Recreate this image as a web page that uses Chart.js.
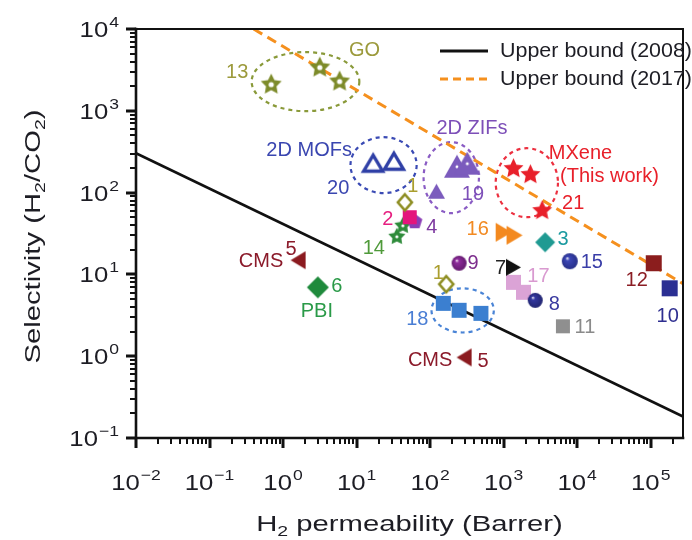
<!DOCTYPE html>
<html>
<head>
<meta charset="utf-8">
<script src="https://cdn.jsdelivr.net/npm/chart.js@4.4.1/dist/chart.umd.min.js"></script>
<style>
  html, body { margin: 0; padding: 0; background: #fff; }
  #wrap { width: 692px; height: 540px; }
</style>
</head>
<body>
<div id="wrap"><canvas id="c" width="692" height="540"></canvas></div>
<script>
// ---- Axis ranges and decade tick labels ----
const xRange = [0.01, 275000];
const yRange = [0.1, 10000];
const xTicks = [0.01, 0.1, 1, 10, 100, 1000, 10000, 100000];
const xTickExp = ['\u22122', '\u22121', '0', '1', '2', '3', '4', '5'];
const yTicks = [0.1, 1, 10, 100, 1000, 10000];
const yTickExp = ['\u22121', '0', '1', '2', '3', '4'];

// ---- Robeson upper bounds (end points) ----
const bound2008X = [0.01, 275000];
const bound2008Y = [303, 0.183];
const bound2017X = [0.398, 275000];
const bound2017Y = [10000, 7.71];

// ---- Membranes: H2 permeability (Barrer) / H2/CO2 selectivity ----
const s13X = [0.69, 3.16, 5.87],   s13Y = [2120, 3430, 2310];   // GO
const s20X = [16.8, 32.2],         s20Y = [229, 242];           // 2D MOFs
const s19X = [232, 320, 122],      s19Y = [210, 229, 104];      // 2D ZIFs
const s21X = [1360, 2310, 3340],   s21Y = [199, 168, 61];       // MXene
const s1X  = [45.3, 166],          s1Y  = [76, 7.6];
const s2X  = [52.8],               s2Y  = [50];
const s4X  = [61.7],               s4Y  = [44.7];
const s14X = [35.3, 42.6],         s14Y = [29.3, 39.9];
const s16X = [1000, 1406],         s16Y = [32.7, 30.1];
const s3X  = [3670],               s3Y  = [24.7];
const s15X = [7940],               s15Y = [14.5];
const s9X  = [248],                s9Y  = [13.7];
const s7X  = [1360],               s7Y  = [12.2];
const s17X = [1360, 1860],         s17Y = [8.0, 6.04];
const s8X  = [2690],               s8Y  = [4.82];
const s11X = [6400],               s11Y = [2.32];
const s12X = [110000],             s12Y = [13.7];
const s10X = [181000],             s10Y = [6.76];
const s18X = [151, 248, 491],      s18Y = [4.43, 3.64, 3.34];
const s5X  = [1.6, 290],           s5Y  = [14.9, 0.966];        // CMS
const s6X  = [2.97],               s6Y  = [6.95];               // PBI

const zip = (xs, ys) => xs.map((x, i) => ({ x, y: ys[i] }));

// ---- Marker images ----
function marker(shape, w, h, fill, opt = {}) {
  const lw = opt.hollow ? (opt.lw || 2.5) : 0;
  const pad = 2 + lw;
  const c = document.createElement('canvas');
  c.width = Math.ceil(w + pad * 2);
  c.height = Math.ceil(h + pad * 2);
  const g = c.getContext('2d');
  const cx = c.width / 2, cy = c.height / 2;
  g.beginPath();
  if (shape === 'square') {
    g.rect(cx - w / 2, cy - h / 2, w, h);
  } else if (shape === 'diamond') {
    g.moveTo(cx, cy - h / 2); g.lineTo(cx + w / 2, cy);
    g.lineTo(cx, cy + h / 2); g.lineTo(cx - w / 2, cy); g.closePath();
  } else if (shape === 'triUp') {
    g.moveTo(cx, cy - h / 2); g.lineTo(cx + w / 2, cy + h / 2);
    g.lineTo(cx - w / 2, cy + h / 2); g.closePath();
  } else if (shape === 'triRight') {
    g.moveTo(cx + w / 2, cy); g.lineTo(cx - w / 2, cy + h / 2);
    g.lineTo(cx - w / 2, cy - h / 2); g.closePath();
  } else if (shape === 'triLeft') {
    g.moveTo(cx - w / 2, cy); g.lineTo(cx + w / 2, cy - h / 2);
    g.lineTo(cx + w / 2, cy + h / 2); g.closePath();
  } else if (shape === 'star' || shape === 'pentagon') {
    const R = w / 2, r = shape === 'star' ? R * (opt.inner || 0.45) : R;
    const n = shape === 'star' ? 10 : 5;
    for (let k = 0; k < n; k++) {
      const rad = (shape === 'star' && k % 2) ? r : R;
      const a = -Math.PI / 2 + k * 2 * Math.PI / n;
      const px = cx + rad * Math.cos(a), py = cy + 0.5 + rad * Math.sin(a);
      k ? g.lineTo(px, py) : g.moveTo(px, py);
    }
    g.closePath();
  } else if (shape === 'circle') {
    g.arc(cx, cy, w / 2, 0, Math.PI * 2);
  }
  if (opt.hollow) {
    g.lineWidth = lw; g.strokeStyle = fill; g.lineJoin = 'miter'; g.stroke();
  } else {
    if (opt.sphere) {
      const r = w / 2;
      const gr = g.createRadialGradient(cx - r * 0.35, cy - r * 0.4, 0, cx, cy, r * 1.05);
      gr.addColorStop(0, '#ffffff');
      gr.addColorStop(0.25, fill);
      gr.addColorStop(1, opt.dark || fill);
      g.fillStyle = gr;
    } else {
      g.fillStyle = fill;
    }
    g.fill();
  }
  if (opt.dot) {
    g.beginPath(); g.arc(cx, cy + 0.5, opt.dot, 0, Math.PI * 2);
    g.fillStyle = '#fff'; g.fill();
  }
  return c;
}

const mk = {
  goStar:   marker('star', 22, 21, '#7d8b2a', { dot: 2.6, inner: 0.5 }),
  mofTri:   marker('triUp', 19, 16, '#2f3fa6', { hollow: true, lw: 3.4 }),
  zifBig:   marker('triUp', 26, 23, '#7b5bbd', { dot: 1.5 }),
  zifSmall: marker('triUp', 17, 15, '#7b5bbd'),
  mxStar:   marker('star', 21, 20, '#e8202a', { inner: 0.48 }),
  dia1:     marker('diamond', 14, 16, '#8d8d22', { hollow: true, lw: 2.6 }),
  sq2:      marker('square', 14, 14, '#e4157c'),
  pent4:    marker('pentagon', 16, 16, '#8a3db5'),
  star14:   marker('star', 18, 17, '#2e8b3a', { dot: 1.6, inner: 0.52 }),
  tri16:    marker('triRight', 16, 19, '#f3891f'),
  dia3:     marker('diamond', 20, 20, '#1f9a92'),
  sph15:    marker('circle', 16, 16, '#3b46b5', { sphere: true, dark: '#262e86' }),
  sph9:     marker('circle', 15, 15, '#8e2c9c', { sphere: true, dark: '#611a6c' }),
  tri7:     marker('triRight', 15, 17, '#111111'),
  sq17:     marker('square', 15, 15, '#dba3d6'),
  sph8:     marker('circle', 15, 15, '#33389f', { sphere: true, dark: '#20246e' }),
  sq11:     marker('square', 14, 14, '#8f8f8f'),
  sq12:     marker('square', 16, 16, '#8b1d1d'),
  sq10:     marker('square', 16, 16, '#2b2f93'),
  sq18:     marker('square', 15, 15, '#3b7fd0'),
  tri5:     marker('triLeft', 15, 18, '#8b1a1f'),
  dia6:     marker('diamond', 22, 22, '#1f8a3c')
};

// Point series: marker, plus annotation texts [point index, text, dx, dy, colour]
function series(xs, ys, style, tags, order = 1) {
  return {
    data: zip(xs, ys),
    showLine: false,
    pointStyle: style,
    pointRadius: 8,
    order,
    tags
  };
}

const C = {
  go: '#9c9a3c', mof: '#3a46b0', zif: '#7d4fb8', mx: '#e8202a', one: '#aa9e2e',
  two: '#e62080', four: '#7e3aa0', fourteen: '#4f9a3a', sixteen: '#f28a22',
  three: '#1a9aa0', fifteen: '#3a3ea8', nine: '#7c2c8c', seven: '#222222',
  seventeen: '#d99ad0', eight: '#3a3aa0', eleven: '#8a8a8a', twelve: '#8b1d24',
  ten: '#2e2e90', eighteen: '#4a7ed4', cms: '#8b1a2a', pbi: '#2a9a48'
};

const datasets = [
  series(s13X, s13Y, mk.goStar, [[0, '13', -34, -12, C.go], [2, 'GO', 25, -31, C.go]]),
  series(s20X, s20Y, mk.mofTri, [[0, '2D MOFs', -64, -13, C.mof], [0, '20', -35, 25, C.mof]]),
  series(s19X, s19Y, [mk.zifBig, mk.zifBig, mk.zifSmall], [[0, '2D ZIFs', 15, -38, C.zif], [0, '19', 16, 28, C.zif]]),
  series(s21X, s21Y, mk.mxStar, [[0, 'MXene', 67, -15, C.mx], [0, '(This work)', 96, 8, C.mx], [2, '21', 31, -7, C.mx]]),
  series(s1X, s1Y, mk.dia1, [[0, '1', 8, -16, C.one], [1, '1', -8, -11, C.one]]),
  series(s2X, s2Y, mk.sq2, [[0, '2', -22, 2, C.two]]),
  series(s4X, s4Y, mk.pent4, [[0, '4', 17, 6, C.four]], 2),
  series(s14X, s14Y, mk.star14, [[0, '14', -23, 12, C.fourteen]], 2),
  series(s16X, s16Y, mk.tri16, [[0, '16', -26, -3, C.sixteen]]),
  series(s3X, s3Y, mk.dia3, [[0, '3', 18, -3, C.three]]),
  series(s15X, s15Y, mk.sph15, [[0, '15', 22, 1, C.fifteen]]),
  series(s9X, s9Y, mk.sph9, [[0, '9', 14, 0, C.nine]]),
  series(s7X, s7Y, mk.tri7, [[0, '7', -13, 1, C.seven]]),
  series(s17X, s17Y, mk.sq17, [[0, '17', 25, -6, C.seventeen]], 2),
  series(s8X, s8Y, mk.sph8, [[0, '8', 19, 4, C.eight]]),
  series(s11X, s11Y, mk.sq11, [[0, '11', 22, 1, C.eleven]]),
  series(s12X, s12Y, mk.sq12, [[0, '12', -17, 17, C.twelve]]),
  series(s10X, s10Y, mk.sq10, [[0, '10', -2, 28, C.ten]]),
  series(s18X, s18Y, mk.sq18, [[0, '18', -26, 16, C.eighteen]]),
  series(s5X, s5Y, mk.tri5, [[0, 'CMS', -37, 1, C.cms], [0, '5', -7, -11, C.cms],
                             [1, 'CMS', -34, 3, C.cms], [1, '5', 19, 4, C.cms]]),
  series(s6X, s6Y, mk.dia6, [[0, '6', 19, -1, C.pbi], [0, 'PBI', -1, 24, C.pbi]]),
  {
    label: 'Upper bound (2008)',
    data: zip(bound2008X, bound2008Y),
    showLine: true, pointRadius: 0,
    borderColor: '#111111', borderWidth: 2.6, order: 10
  },
  {
    label: 'Upper bound (2017)',
    data: zip(bound2017X, bound2017Y),
    showLine: true, pointRadius: 0,
    borderColor: '#f5901e', borderWidth: 3, borderDash: [10, 6], order: 10
  }
];

// Dashed groupings, given in data units (x range, y range)
const groups = [
  { x: [0.374, 10.9], y: [990, 5220], color: '#8a9a3a' },
  { x: [8.26, 65.6],  y: [98.5, 477], color: '#3a4ab4' },
  { x: [81.5, 461],   y: [56, 414],   color: '#8a5cc4' },
  { x: [780, 5480],   y: [50, 349],   color: '#ec3040' },
  { x: [104.5, 735],  y: [1.95, 6.76], color: '#4a84d6' }
];

const FONT = '"Liberation Sans", Arial, Helvetica, sans-serif';

function text(ctx, s, x, y, size, color, align = 'center', sx = 1, base = 'middle') {
  ctx.save();
  ctx.font = `${size}px ${FONT}`;
  ctx.fillStyle = color;
  ctx.textBaseline = base;
  ctx.textAlign = 'left';
  const w = ctx.measureText(s).width * sx;
  const left = align === 'center' ? x - w / 2 : align === 'right' ? x - w : x;
  ctx.translate(left, y);
  ctx.scale(sx, 1);
  ctx.fillText(s, 0, 0);
  ctx.restore();
  return w;
}

function width(ctx, s, size, sx) {
  ctx.save(); ctx.font = `${size}px ${FONT}`;
  const w = ctx.measureText(s).width * sx; ctx.restore(); return w;
}

// Rich text runs: [text, size, baseline shift]
function runs(ctx, parts, x, y, color, sx) {
  const total = parts.reduce((a, p) => a + width(ctx, p[0], p[1], sx), 0);
  let cx = x - total / 2;
  parts.forEach(p => {
    cx += text(ctx, p[0], cx, y + (p[2] || 0), p[1], color, 'left', sx, 'alphabetic');
  });
}

const groupPlugin = {
  id: 'groups',
  beforeDatasetsDraw(chart) {
    const { ctx, scales: { x, y } } = chart;
    groups.forEach(gp => {
      const x0 = x.getPixelForValue(gp.x[0]), x1 = x.getPixelForValue(gp.x[1]);
      const y0 = y.getPixelForValue(gp.y[0]), y1 = y.getPixelForValue(gp.y[1]);
      ctx.save();
      ctx.beginPath();
      ctx.ellipse((x0 + x1) / 2, (y0 + y1) / 2, Math.abs(x1 - x0) / 2, Math.abs(y1 - y0) / 2, 0, 0, Math.PI * 2);
      ctx.setLineDash([4, 4]);
      ctx.lineWidth = 2.2;
      ctx.strokeStyle = gp.color;
      ctx.stroke();
      ctx.restore();
    });
  }
};

const tagPlugin = {
  id: 'tags',
  afterDatasetsDraw(chart) {
    const ctx = chart.ctx;
    chart.data.datasets.forEach((ds, di) => {
      if (!ds.tags) return;
      const meta = chart.getDatasetMeta(di);
      ds.tags.forEach(([i, s, dx, dy, color]) => {
        const el = meta.data[i];
        text(ctx, s, el.x + dx, el.y + dy, 20, color, 'center', 1.0);
      });
    });
  }
};

// Log-axis tick marks (major at decades, minor at 2..9), pointing outward
function drawLogTicks(ctx, a, sx, sy) {
  ctx.save();
  ctx.fillStyle = '#111111';
  for (let d = -2; d <= 5; d++) {
    for (let k = 1; k <= 9; k++) {
      const v = k * Math.pow(10, d);
      if (v < xRange[0] * 0.999 || v > xRange[1]) continue;
      const px = Math.round(sx.getPixelForValue(v));
      const w = k === 1 ? 3 : 2, len = k === 1 ? 10 : 6;
      ctx.fillRect(px - w / 2, a.bottom, w, len);
    }
  }
  for (let d = -1; d <= 4; d++) {
    for (let k = 1; k <= 9; k++) {
      const v = k * Math.pow(10, d);
      if (v < yRange[0] * 0.999 || v > yRange[1] * 1.001) continue;
      const py = Math.round(sy.getPixelForValue(v));
      const w = k === 1 ? 3 : 2, len = k === 1 ? 10 : 6;
      ctx.fillRect(a.left - len, py - w / 2, len, w);
    }
  }
  ctx.restore();
}

const framePlugin = {
  id: 'frame',
  afterDraw(chart) {
    const { ctx, chartArea: a, scales } = chart;
    const sx = scales.x, sy = scales.y;
    ctx.save();
    ctx.setLineDash([]);
    ctx.strokeStyle = '#111';
    ctx.lineCap = 'square';
    ctx.lineWidth = 2;
    ctx.beginPath();
    ctx.moveTo(a.left, a.top); ctx.lineTo(a.right, a.top); ctx.lineTo(a.right, a.bottom);
    ctx.stroke();
    ctx.lineWidth = 2.6;
    ctx.beginPath();
    ctx.moveTo(a.left, a.top); ctx.lineTo(a.left, a.bottom); ctx.lineTo(a.right, a.bottom);
    ctx.stroke();
    ctx.restore();

    drawLogTicks(ctx, a, sx, sy);

    const tc = '#1d1d24', st = 1.17;
    // x tick labels
    xTicks.forEach((v, i) => {
      const px = sx.getPixelForValue(v);
      const wb = width(ctx, '10', 22, st), we = width(ctx, xTickExp[i], 15, st);
      const left = px - (wb + 1 + we) / 2;
      text(ctx, '10', left, 490, 22, tc, 'left', st, 'alphabetic');
      text(ctx, xTickExp[i], left + wb + 1, 480, 15, tc, 'left', st, 'alphabetic');
    });
    // y tick labels
    yTicks.forEach((v, i) => {
      const py = sy.getPixelForValue(v);
      const we = width(ctx, yTickExp[i], 15, st);
      const right = 119;
      text(ctx, yTickExp[i], right - we, py - 2, 15, tc, 'left', st, 'alphabetic');
      text(ctx, '10', right - we - 1, py + 8, 22, tc, 'right', st, 'alphabetic');
    });

    // axis titles
    runs(ctx, [['H', 22.5], ['2', 15, 5], [' permeability (Barrer)', 22.5]],
         (a.left + a.right) / 2, 531, tc, 1.3);
    ctx.save();
    ctx.translate(31, (a.top + a.bottom) / 2 + 3);
    ctx.rotate(-Math.PI / 2);
    runs(ctx, [['Selectivity (H', 22.5], ['2', 15, 5], ['/CO', 22.5], ['2', 15, 5], [')', 22.5]],
         0, 9, tc, 1.3);
    ctx.restore();

    // legend
    ctx.save();
    ctx.lineWidth = 3;
    ctx.strokeStyle = '#111';
    ctx.beginPath(); ctx.moveTo(440, 51); ctx.lineTo(488, 51); ctx.stroke();
    ctx.strokeStyle = '#f5901e';
    ctx.setLineDash([8, 5]);
    ctx.beginPath(); ctx.moveTo(440, 79); ctx.lineTo(488, 79); ctx.stroke();
    ctx.restore();
    text(ctx, chart.data.datasets[datasets.length - 2].label, 500, 52, 19.5, tc, 'left', 1.1);
    text(ctx, chart.data.datasets[datasets.length - 1].label, 500, 80, 19.5, tc, 'left', 1.1);
  }
};

new Chart(document.getElementById('c'), {
  type: 'scatter',
  data: { datasets },
  options: {
    responsive: false,
    animation: false,
    events: [],
    layout: { padding: { left: 136, right: 2, top: 29, bottom: 102 } },
    scales: {
      x: { type: 'logarithmic', min: xRange[0], max: xRange[1], display: false },
      y: { type: 'logarithmic', min: yRange[0], max: yRange[1], display: false }
    },
    plugins: { legend: { display: false }, tooltip: { enabled: false } }
  },
  plugins: [groupPlugin, tagPlugin, framePlugin]
});
</script>
</body>
</html>
